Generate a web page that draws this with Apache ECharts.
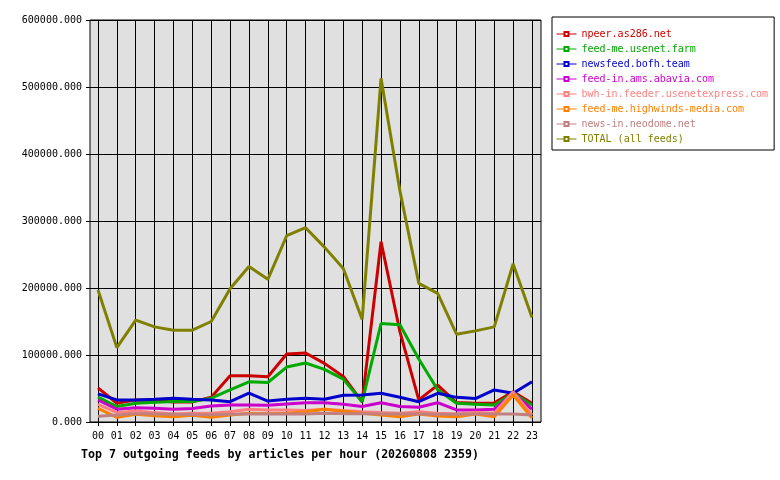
<!DOCTYPE html>
<html lang="en">
<head>
<meta charset="UTF-8">
<title>outgoing feeds</title>
<script src="https://cdn.jsdelivr.net/npm/echarts@6/dist/echarts.min.js"></script>
<style>
  html, body { margin: 0; padding: 0; background: #fff; }
  #main { width: 780px; height: 480px; }
</style>
</head>
<body>
<div id="main"></div>
<script>
// hours of the day
var hours = ['00','01','02','03','04','05','06','07','08','09','10','11',
             '12','13','14','15','16','17','18','19','20','21','22','23'];

// articles per hour
var npeer     = [51000, 28000, 33000, 32000, 30000, 30000, 37000, 69000, 69000, 67500, 101500, 103000,
                 87500, 68000, 30000, 269000, 135000, 33000, 55000, 29000, 28000, 28500, 45000, 28000];
var feedMe    = [37000, 23000, 28000, 29500, 30500, 30500, 35500, 48000, 60000, 59000, 82000, 88000,
                 78500, 64000, 30000, 147000, 145000, 94000, 48000, 28000, 26500, 25500, 42800, 25500];
var bofh      = [42000, 33000, 33000, 34000, 35300, 34000, 33000, 30300, 43000, 31300, 33800, 35300,
                 34000, 40000, 40300, 42800, 37000, 30300, 42800, 36800, 35000, 47800, 42800, 60200];
var abavia    = [32800, 19000, 21400, 20500, 19000, 20000, 24000, 25400, 25400, 25000, 27000, 28800,
                 28800, 26400, 23000, 28800, 23000, 22000, 28800, 18000, 18000, 19000, 42800, 19000];
var bwh       = [26400, 14000, 16400, 14000, 12000, 13000, 13000, 15400, 18900, 18000, 18000, 17000,
                 19000, 17000, 15400, 14000, 13000, 15400, 13000, 12000, 14000, 13000, 45000, 10400];
var highwinds = [20400, 7000, 11400, 9500, 8000, 10000, 7000, 10400, 13000, 12500, 13000, 15400,
                 19000, 16000, 13000, 10400, 8000, 12000, 9000, 8000, 12000, 8000, 40300, 6000];
var neodome   = [8500, 10400, 12500, 12000, 11500, 11000, 11000, 11500, 12000, 12000, 12000, 12000,
                 13000, 12500, 12500, 12000, 12000, 12000, 11500, 11500, 12000, 12000, 12000, 10500];
var total     = [197000, 111000, 152000, 142000, 137000, 137000, 150000, 199000, 232000, 213000, 278000, 290000,
                 261000, 229000, 153000, 513000, 345000, 207000, 192000, 131000, 136000, 142000, 236000, 156000];

var feedNames  = ['npeer.as286.net', 'feed-me.usenet.farm', 'newsfeed.bofh.team', 'feed-in.ams.abavia.com',
                  'bwh-in.feeder.usenetexpress.com', 'feed-me.highwinds-media.com', 'news-in.neodome.net',
                  'TOTAL (all feeds)'];
var feedColors = ['#cc0000', '#00aa00', '#0000cc', '#cc00cc', '#ff8080', '#ff8000', '#c08080', '#808000'];
var feedData   = [npeer, feedMe, bofh, abavia, bwh, highwinds, neodome, total];

var mono = 'DejaVu Sans Mono';

var chart = echarts.init(document.getElementById('main'));

var series = [];
var legendData = [];
for (var i = 0; i < feedNames.length; i++) {
    series.push({
        name: feedNames[i],
        type: 'line',
        xAxisIndex: 0,
        yAxisIndex: 0,
        data: feedData[i],
        symbol: 'emptyRect',
        symbolSize: 4,
        showSymbol: false,
        color: feedColors[i],
        lineStyle: { width: 3, color: feedColors[i] }
    });
    legendData.push({ name: feedNames[i], textStyle: { color: feedColors[i] } });
}

var option = {
    animation: false,
    backgroundColor: '#ffffff',
    title: {
        text: 'Top 7 outgoing feeds by articles per hour (20260808 2359)',
        left: 76,
        top: 444,
        textStyle: { fontFamily: mono, fontSize: 11.6, fontWeight: 'bold', color: '#000' }
    },
    legend: {
        data: legendData,
        orient: 'vertical',
        left: 552,
        top: 17,
        padding: [12, 6, 6, 4],
        itemGap: 5,
        itemWidth: 20,
        itemHeight: 5,
        backgroundColor: '#fff',
        borderColor: '#000',
        borderWidth: 1,
        lineStyle: { width: 1 },
        itemStyle: { borderWidth: 1 },
        textStyle: { fontFamily: mono, fontSize: 10, lineHeight: 10 }
    },
    grid: [
        // data grid: first and last hour sit inside the frame
        { left: 98, right: 248, top: 20, bottom: 58 },
        // frame grid: grey background, border and horizontal lines
        { left: 90, right: 239, top: 20, bottom: 58, show: true,
          backgroundColor: '#e0e0e0', borderColor: '#000', borderWidth: 1 }
    ],
    xAxis: [
        {
            type: 'category',
            gridIndex: 0,
            data: hours,
            boundaryGap: false,
            axisLine: { show: false },
            axisTick: { show: true, length: 4, lineStyle: { color: '#000' } },
            splitLine: { show: true, lineStyle: { color: '#000', width: 1 } },
            axisLabel: { interval: 0, margin: 9, fontFamily: mono, fontSize: 10, color: '#000' }
        },
        { type: 'value', gridIndex: 1, show: false, min: 0, max: 1 }
    ],
    yAxis: [
        { type: 'value', gridIndex: 0, min: 0, max: 600000, interval: 100000, show: false },
        {
            type: 'value',
            gridIndex: 1,
            min: 0,
            max: 600000,
            interval: 100000,
            axisLine: { show: false },
            axisTick: { show: true, length: 4, lineStyle: { color: '#000' } },
            splitLine: { show: true, lineStyle: { color: '#000', width: 1 } },
            axisLabel: {
                margin: 8,
                fontFamily: mono,
                fontSize: 10,
                color: '#000',
                formatter: function (v) { return v.toFixed(3); }
            }
        }
    ],
    series: series
};

chart.setOption(option);
</script>
</body>
</html>
